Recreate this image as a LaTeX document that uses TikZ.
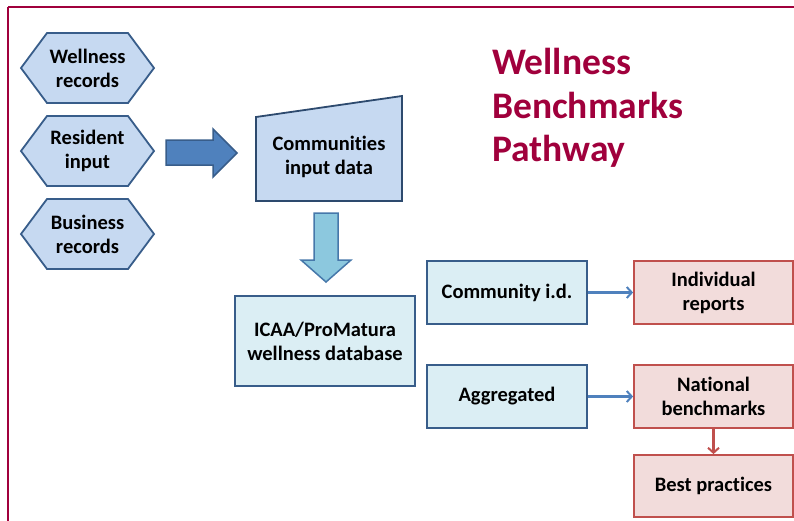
\documentclass[tikz,border=0pt]{standalone}
\usepackage{fontspec}
\setmainfont[RawFeature=-liga]{Carlito}
\usetikzlibrary{arrows.meta}
\definecolor{frameRed}{RGB}{160,0,60}
\definecolor{hexFill}{RGB}{198,217,241}
\definecolor{navyLine}{RGB}{56,93,138}
\definecolor{arrowBlue}{RGB}{79,129,189}
\definecolor{tealFill}{RGB}{140,200,222}
\definecolor{tealLine}{RGB}{70,120,170}
\definecolor{boxFill}{RGB}{219,238,244}
\definecolor{redFill}{RGB}{242,220,219}
\definecolor{redLine}{RGB}{192,80,77}
\begin{document}
\begin{tikzpicture}[x=1pt,y=-1pt,
  txt/.style={align=center,font=\fontsize{20.5}{24}\selectfont\bfseries,text=black},
  hexshape/.style={fill=hexFill,draw=navyLine,line width=1.8pt,line join=miter},
  bluebox/.style={txt,draw=navyLine,fill=boxFill,line width=1.8pt,minimum width=160pt,minimum height=63pt,inner sep=0pt},
  redbox/.style={txt,draw=redLine,fill=redFill,line width=1.8pt,minimum width=159pt,minimum height=63pt,inner sep=0pt},
  thinblue/.style={draw=arrowBlue,line width=2.3pt,-{Straight Barb[length=5pt,width=11pt,line width=2pt]}},
  thinred/.style={draw=redLine,line width=2.3pt,-{Straight Barb[length=5pt,width=11pt,line width=2pt]}}
]
\useasboundingbox (0,0) rectangle (794,520);
\begin{scope}
\clip (0,0) rectangle (794,520);
\draw[frameRed,line width=2.2pt] (8,7) -- (810,7);
\draw[frameRed,line width=2.2pt] (8,7) -- (8,530);
\end{scope}

% hexagons
\foreach \cy/\nm/\tx in {68/hexA/{Wellness\\records},151/hexB/{Resident\\input},234/hexC/{Business\\records}}{
  \filldraw[hexshape] (21,\cy) -- (47,\cy-35) -- (128,\cy-35) -- (154,\cy) -- (128,\cy+35) -- (47,\cy+35) -- cycle;
  \node[txt] (\nm) at (87.5,\cy) {\tx};
}

% block right arrow
\filldraw[fill=arrowBlue,draw=navyLine,line width=1.5pt,line join=miter]
  (166,140) -- (213,140) -- (213,129) -- (237,153) -- (213,177) -- (213,165) -- (166,165) -- cycle;

% trapezoid (manual input)
\filldraw[fill=hexFill,draw=navyLine!80!black,line width=1.8pt,line join=miter]
  (256,117) -- (402,96) -- (402,201) -- (256,201) -- cycle;
\node[txt] (comin) at (329,157) {Communities\\input data};

% down block arrow
\filldraw[fill=tealFill,draw=tealLine,line width=1.5pt,line join=miter]
  (314,213) -- (338,213) -- (338,260) -- (351,260) -- (326,282) -- (301,260) -- (314,260) -- cycle;

% boxes
\node[bluebox,minimum width=180pt,minimum height=90pt] (icaa) at (325,341) {ICAA/ProMatura\\wellness database};
\node[bluebox] (commid) at (507,292.5) {Community i.d.};
\node[bluebox] (aggr) at (507,396.5) {Aggregated};
\node[redbox] (indiv) at (713.5,292.5) {Individual\\reports};
\node[redbox] (natl) at (713.5,396.5) {National\\benchmarks};
\node[redbox,minimum height=62pt] (best) at (713.5,486) {Best practices};

\draw[thinblue] (commid.east) -- (indiv.west);
\draw[thinblue] (aggr.east) -- (natl.west);
\draw[thinred] (natl.south) -- (best.north);

% title
\node[anchor=north west,inner sep=0pt,align=left,text=frameRed,
  font=\fontsize{37.5}{43.5}\selectfont\bfseries] (title) at (492,48)
  {Wellness\\Benchmarks\\Pathway};
\end{tikzpicture}
\end{document}
